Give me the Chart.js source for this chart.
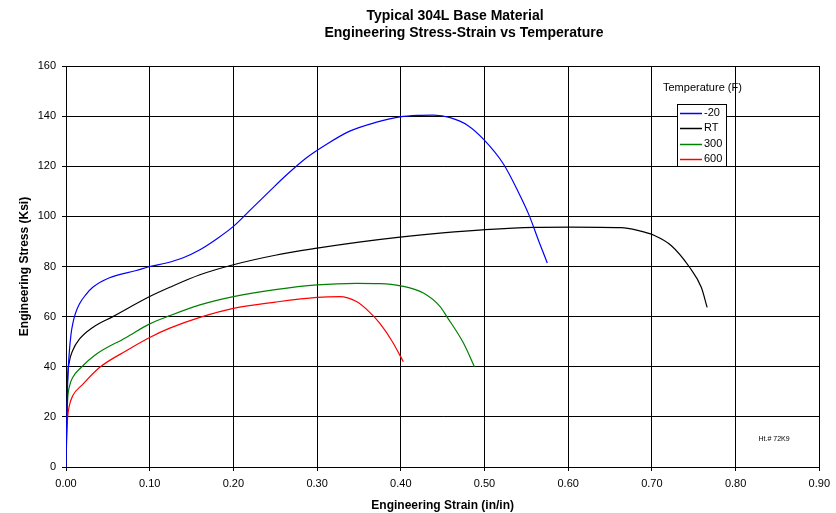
<!DOCTYPE html>
<html>
<head>
<meta charset="utf-8">
<script src="https://cdn.jsdelivr.net/npm/chart.js@4"></script>
<style>
  html, body { margin: 0; padding: 0; background: #fff; }
  #wrap { width: 836px; height: 513px; }
</style>
</head>
<body>
<div id="wrap"><canvas id="stressChart" width="836" height="513"></canvas></div>
<script>
// values (strain in/in, stress ksi)
const seriesNames = ['-20', 'RT', '300', '600'];
const seriesColors = ['#0000ff', '#000000', '#008000', '#ff0000'];

const strainM20 = [0, 0.001, 0.002, 0.004, 0.006, 0.008, 0.011, 0.016, 0.023, 0.032, 0.052, 0.084, 0.1, 0.12, 0.14, 0.16, 0.18, 0.2, 0.22, 0.243, 0.265, 0.287, 0.31, 0.339, 0.37, 0.399, 0.42, 0.439, 0.459, 0.48, 0.499, 0.523, 0.54, 0.553, 0.565, 0.575];
const stressM20 = [0, 20, 34, 46, 53, 57, 61, 65, 68.5, 71.7, 75.5, 78.4, 80, 81.4, 83.5, 86.7, 91, 96, 102.5, 110, 117, 123.3, 128.5, 134, 137.5, 139.7, 140.3, 140.4, 139.4, 136.3, 130.7, 120.7, 110, 100.7, 90, 81.4];

const strainRT = [0, 0.001, 0.002, 0.004, 0.008, 0.016, 0.032, 0.056, 0.1, 0.124, 0.16, 0.2, 0.25, 0.3, 0.35, 0.399, 0.45, 0.501, 0.559, 0.603, 0.663, 0.683, 0.703, 0.723, 0.745, 0.759, 0.766];
const stressRT = [0, 25, 36, 42, 46.5, 51, 55.7, 60, 68, 71.7, 76.7, 80.7, 84.5, 87.3, 89.7, 91.7, 93.4, 94.7, 95.6, 95.7, 95.5, 94.4, 92.4, 88.4, 79.7, 71.7, 63.7];

const strain300 = [0, 0.001, 0.002, 0.004, 0.008, 0.018, 0.036, 0.072, 0.1, 0.124, 0.16, 0.2, 0.25, 0.3, 0.347, 0.375, 0.4, 0.427, 0.447, 0.455, 0.475, 0.488];
const stress300 = [0, 18, 27, 32, 35.7, 39.7, 45, 51.7, 57.1, 60.4, 64.7, 68, 70.8, 72.7, 73.3, 73.2, 72.3, 69.4, 64, 60, 49.4, 40];

const strain600 = [0, 0.001, 0.002, 0.004, 0.008, 0.02, 0.04, 0.072, 0.1, 0.124, 0.16, 0.2, 0.25, 0.3, 0.327, 0.347, 0.362, 0.375, 0.39, 0.403];
const stress600 = [0, 14, 20, 24.5, 28.4, 33, 39.7, 46.4, 51.7, 55.4, 59.7, 63.3, 65.8, 67.7, 68, 66, 62, 57.3, 50, 42];

const xTickLabels = ['0.00', '0.10', '0.20', '0.30', '0.40', '0.50', '0.60', '0.70', '0.80', '0.90'];
const yTickLabels = ['0', '20', '40', '60', '80', '100', '120', '140', '160'];

const titleLines = ['Typical 304L Base Material', 'Engineering Stress-Strain vs Temperature'];
const legendTitle = 'Temperature (F)';
const noteText = 'Ht.# 72K9';

const strains = [strainM20, strainRT, strain300, strain600];
const stresses = [stressM20, stressRT, stress300, stress600];

function toPoints(xs, ys) {
    return xs.map((x, i) => ({ x: x, y: ys[i] }));
}

const datasets = seriesNames.map((name, i) => ({
    label: name,
    data: toPoints(strains[i], stresses[i]),
    borderColor: seriesColors[i],
    backgroundColor: seriesColors[i],
    borderWidth: 1.2,
    pointRadius: 0,
    cubicInterpolationMode: 'monotone',
    fill: false
}));

const FONT = 'Arial, "Liberation Sans", sans-serif';

// title, legend box and the heat number note
const extras = {
    id: 'extras',
    afterDraw(chart) {
        const c = chart.ctx;
        const xs = chart.scales.x;
        const ys = chart.scales.y;
        c.save();
        c.fillStyle = '#000';
        c.textAlign = 'center';
        c.textBaseline = 'middle';
        c.font = 'bold 14px ' + FONT;
        c.fillText(titleLines[0], 455, 16);
        c.fillText(titleLines[1], 464, 33);

        // legend
        c.font = '11px ' + FONT;
        c.textAlign = 'left';
        c.fillText(legendTitle, 663, 88);
        const bx = 677, by = 104, bw = 49, bh = 62;
        c.fillStyle = '#fff';
        c.fillRect(bx, by, bw, bh);
        c.strokeStyle = '#000';
        c.lineWidth = 1;
        c.strokeRect(bx + 0.5, by + 0.5, bw, bh);
        chart.data.datasets.forEach((ds, i) => {
            const ry = 113 + i * 15.3;
            c.strokeStyle = ds.borderColor;
            c.lineWidth = 1.5;
            c.beginPath();
            c.moveTo(bx + 3, Math.round(ry) + 0.5);
            c.lineTo(bx + 25, Math.round(ry) + 0.5);
            c.stroke();
            c.fillStyle = '#000';
            c.fillText(ds.label, bx + 27, ry);
        });

        // note
        c.font = '7px ' + FONT;
        c.textAlign = 'center';
        c.fillText(noteText, xs.getPixelForValue(0.846), ys.getPixelForValue(11));
        c.restore();
    }
};

const ctx = document.getElementById('stressChart').getContext('2d');

const chart = new Chart(ctx, {
    type: 'line',
    data: { datasets: datasets },
    options: {
        responsive: false,
        animation: false,
        layout: { padding: { top: 66, right: 16, left: 0, bottom: 0 } },
        plugins: {
            legend: { display: false },
            title: { display: false },
            tooltip: { enabled: false }
        },
        scales: {
            x: {
                type: 'linear',
                min: 0,
                max: 0.9,
                afterFit(scale) { scale.height = 46; },
                ticks: {
                    stepSize: 0.1,
                    color: '#000',
                    padding: 6,
                    font: { family: FONT, size: 11 },
                    callback: (v, i) => xTickLabels[i]
                },
                grid: { color: '#000', lineWidth: 1, tickLength: 4, tickColor: '#000' },
                border: { color: '#000' },
                title: {
                    display: true,
                    text: 'Engineering Strain (in/in)',
                    color: '#000',
                    padding: { top: 0, bottom: 0 },
                    font: { family: FONT, size: 12, weight: 'bold' }
                }
            },
            y: {
                min: 0,
                max: 160,
                afterFit(scale) { scale.width = 66; },
                ticks: {
                    stepSize: 20,
                    color: '#000',
                    padding: 6,
                    font: { family: FONT, size: 11 },
                    callback: (v, i) => yTickLabels[i]
                },
                grid: { color: '#000', lineWidth: 1, tickLength: 4, tickColor: '#000' },
                border: { color: '#000' },
                title: {
                    display: true,
                    text: 'Engineering Stress (Ksi)',
                    color: '#000',
                    padding: { top: 17, bottom: 0 },
                    font: { family: FONT, size: 12, weight: 'bold' }
                }
            }
        }
    },
    plugins: [extras]
});
</script>
</body>
</html>
